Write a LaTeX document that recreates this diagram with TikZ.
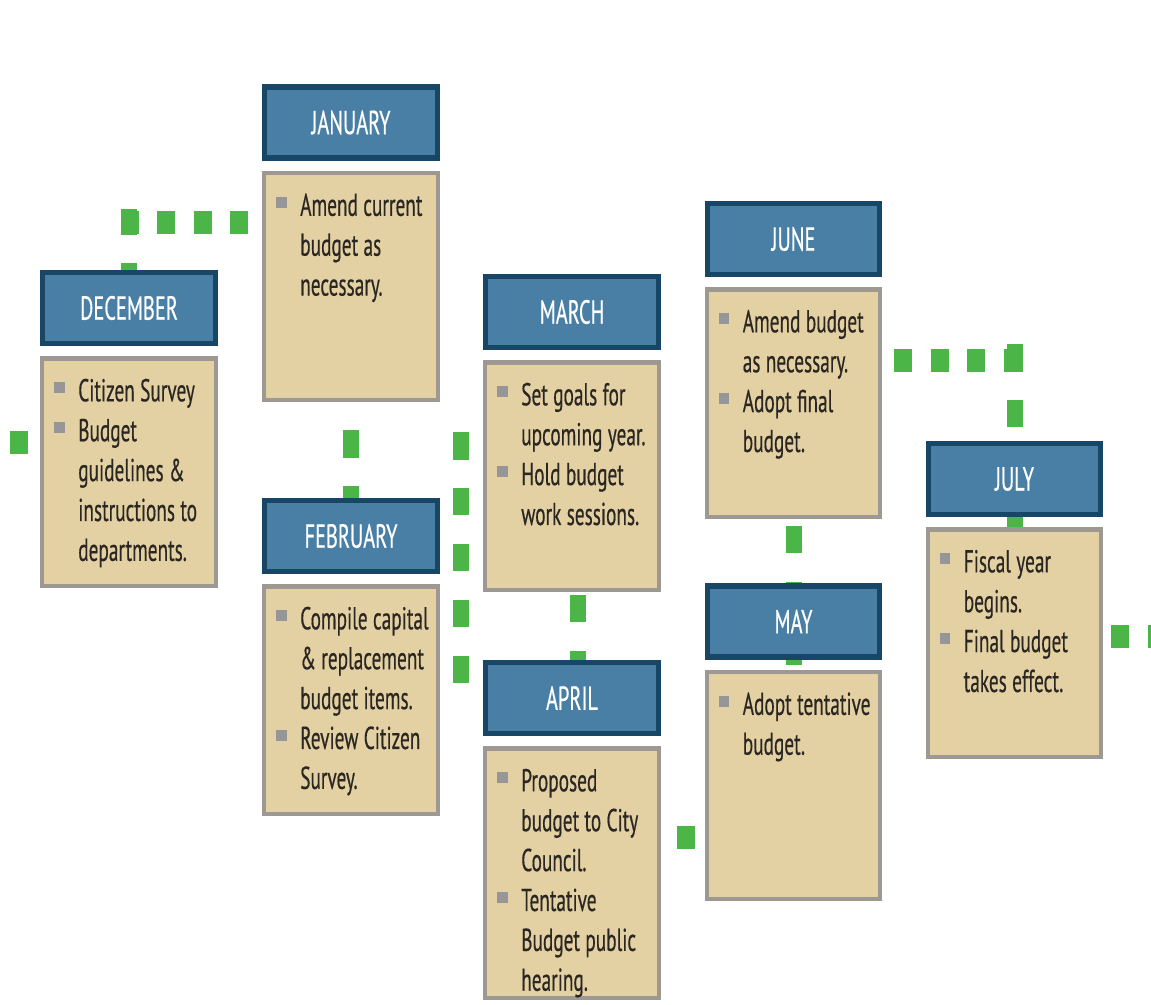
\documentclass[tikz,border=0pt]{standalone}
\usepackage{fontspec}
\setmainfont[FakeStretch=0.61, FakeBold=0.4]{PT Sans}
\usepackage{xcolor}
\usetikzlibrary{positioning,backgrounds,calc}

\definecolor{hdrblue}{RGB}{73,127,164}
\definecolor{hdrline}{RGB}{24,70,103}
\definecolor{bodytan}{RGB}{227,208,163}
\definecolor{bodyline}{RGB}{158,152,146}
\definecolor{linkgreen}{RGB}{76,181,72}
\definecolor{bulgray}{RGB}{150,150,152}
\definecolor{txtdark}{RGB}{42,38,34}

\newcommand{\bul}{\leavevmode\llap{\textcolor{bulgray}{\rule[0.26em]{0.34em}{0.34em}}\hspace{0.42em}}}

\begin{document}
\begin{tikzpicture}[x=0.02cm, y=-0.02cm,
  font=\fontsize{18pt}{22.7pt}\selectfont,
  month/.style={draw=hdrline, fill=hdrblue, line width=3pt, text=white,
                font=\fontsize{19pt}{22pt}\selectfont,
                minimum width=3.45cm, minimum height=1.42cm, inner sep=0pt},
  tasks/.style={draw=bodyline, fill=bodytan, line width=2.5pt, text=txtdark,
                text width=3.47cm, inner sep=0pt, align=left,
                text height=0.86cm, text depth=3.69cm,
                execute at begin node={\leftskip=0.72cm\hyphenpenalty=10000
                  \spaceskip=0.17em plus 0.05em\xspaceskip=0.2em\relax}},
  hlink/.style={linkgreen, line width=0.46cm, dash pattern=on 0.36cm off 0.37cm},
  vlink/.style={linkgreen, line width=0.32cm, dash pattern=on 0.55cm off 0.57cm}]

\useasboundingbox (0,0) rectangle (1151,1004);

\node[month] (dec) at (129,308) {DECEMBER};
\node[tasks, below=0.2cm of dec] (decb) {\bul Citizen Survey\\ \bul Budget\\
   guidelines \&\\ instructions to\\ departments.};

\node[month] (jan) at (351,122.5) {JANUARY};
\node[tasks, below=0.2cm of jan] (janb) {\bul Amend current\\ budget as\\ necessary.};

\node[month] (feb) at (351,536) {FEBRUARY};
\node[tasks, below=0.2cm of feb] (febb) {\bul Compile capital\\ \& replacement\\
   budget items.\\ \bul Review Citizen\\ Survey.};

\node[month] (mar) at (572,312) {MARCH};
\node[tasks, below=0.2cm of mar] (marb) {\bul Set goals for\\ upcoming year.\\
   \bul Hold budget\\ work sessions.};

\node[month] (apr) at (572,698) {APRIL};
\node[tasks, text depth=4.13cm, below=0.2cm of apr] (aprb) {\bul Proposed\\
   budget to City\\ Council.\\ \bul Tentative\\ Budget public\\ hearing.};

\node[month] (may) at (793.5,621.5) {MAY};
\node[tasks, below=0.2cm of may] (mayb) {\bul Adopt tentative\\ budget.};

\node[month] (jun) at (793.5,239) {JUNE};
\node[tasks, below=0.2cm of jun] (junb) {\bul Amend budget\\ as necessary.\\
   \bul Adopt final\\ budget.};

\node[month] (jul) at (1014.5,479) {JULY};
\node[tasks, below=0.2cm of jul] (julb) {\bul Fiscal year\\ begins.\\
   \bul Final budget\\ takes effect.};

% green dotted links, behind the boxes
\begin{scope}[on background layer]
  \coordinate (edgeL) at (0,442);
  \draw[hlink, dash phase=0.53cm] (edgeL) -- (edgeL -| decb.west);

  \coordinate (dj) at (129,222);
  \draw[vlink, dash phase=0.42cm] (dec.north) -- ([yshift=0.26cm]dj);
  \draw[hlink] ([xshift=-0.16cm]dj) -- (dj -| janb.west);

  \foreach \a/\b/\ph/\dx in {janb/feb/0.56cm/0cm, marb/aprb/1.06cm/0.12cm,
                             junb/mayb/0.98cm/0cm}
    \draw[vlink, dash phase=\ph] ([xshift=\dx]\a.south) -- ([xshift=\dx]\b.north);

  \coordinate (fmT) at (461,432);
  \coordinate (fmB) at (461,684);
  \draw[vlink] (fmT) -- (fmB);

  \coordinate (am) at (683,837);
  \draw[hlink, dash phase=0.41cm] (am -| aprb.east) -- (am -| mayb.west);

  \coordinate (jj) at (1014.5,360);
  \draw[hlink, dash phase=0.49cm] (jj -| junb.east) -- ([xshift=0.18cm]jj);
  \draw[vlink] ([yshift=0.32cm]jj) -- (jj |- julb.north);

  \coordinate (edgeR) at (1151,636);
  \draw[hlink, dash phase=0.57cm] (edgeR -| julb.east) -- (edgeR);
\end{scope}
\end{tikzpicture}
\end{document}
